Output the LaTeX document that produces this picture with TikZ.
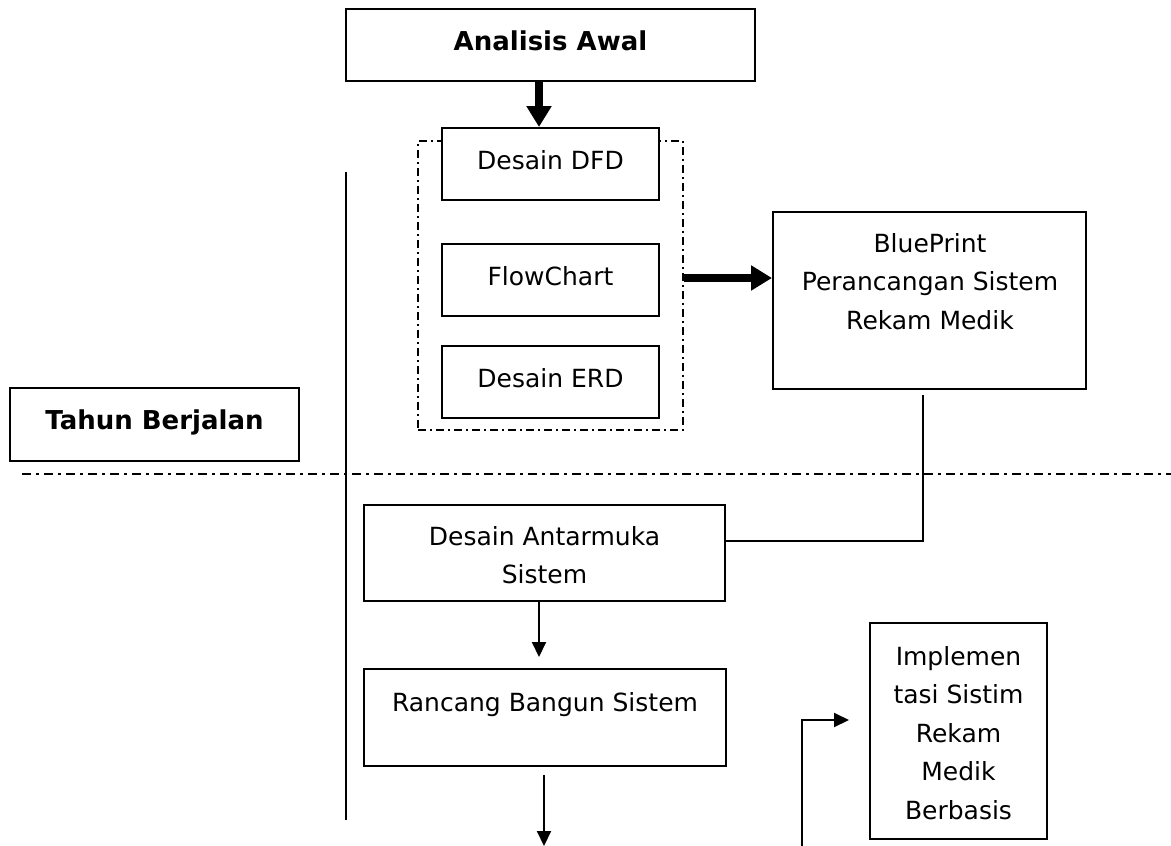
\documentclass[tikz,border=0pt]{standalone}
\usepackage{fontspec}
\setmainfont{DejaVu Sans}
\usetikzlibrary{arrows.meta,calc}
\tikzset{
  box/.style={draw, line width=2pt, fill=white, rectangle, inner sep=0pt},
  grpbox/.style={draw, line width=1.6pt, rectangle, inner sep=0pt, dash pattern=on 8pt off 4pt on 2pt off 4pt},
  dashdot/.style={line width=1.6pt, dash pattern=on 9pt off 5pt on 3pt off 5pt},
  txt/.style={inner sep=0pt, font=\fontsize{25}{38.5}\selectfont, align=center},
  btxt/.style={inner sep=0pt, font=\fontsize{26}{32}\selectfont\bfseries},
  plain/.style={line width=2pt},
  thickarrow/.style={line width=8pt, -{Triangle[width=24pt,length=21pt]}},
  thinarrow/.style={line width=2pt, -{Triangle[width=14pt,length=15pt]}}
}
\begin{document}
\begin{tikzpicture}[x=1pt,y=-1pt]
\useasboundingbox (0,0) rectangle (1171,846);
% group frame
\node[grpbox, minimum width=265pt, minimum height=289pt] (grp) at (550.5,285.5) {};
% boxes
\node[box, minimum width=409pt, minimum height=72pt] (an) at (550.5,45) {};
\node[box, minimum width=217pt, minimum height=72pt] (dfd) at (550.5,164) {};
\node[box, minimum width=217pt, minimum height=72pt] (flow) at (550.5,280) {};
\node[box, minimum width=217pt, minimum height=72pt] (erd) at (550.5,382) {};
\node[box, minimum width=313pt, minimum height=177pt] (bp) at (929.5,300.5) {};
\node[box, minimum width=289pt, minimum height=73pt] (tahun) at (154.5,424.5) {};
\node[box, minimum width=361pt, minimum height=96pt] (da) at (544.5,553) {};
\node[box, minimum width=362pt, minimum height=97pt] (rb) at (545,717.5) {};
\node[box, minimum width=177pt, minimum height=216pt] (impl) at (958.5,731) {};
% texts
\node[btxt, anchor=base] (tan) at (550.5,50) {Analisis Awal};
\node[txt, anchor=base] (tdfd) at (550.5,169) {Desain DFD};
\node[txt, anchor=base] (tflow) at (550.5,285) {FlowChart};
\node[txt, anchor=base] (terd) at (550.5,387) {Desain ERD};
\node[txt, anchor=north] (tbp) at (930,233) {BluePrint\\Perancangan Sistem\\Rekam Medik};
\node[btxt, anchor=base] (ttahun) at (154.5,429) {Tahun Berjalan};
\node[txt, anchor=north] (tda) at (544.5,526) {Desain Antarmuka\\Sistem};
\node[txt, anchor=base] (trb) at (545,711) {Rancang Bangun Sistem};
\node[txt, anchor=north] (timpl) at (958.5,646) {Implemen\\tasi Sistim\\Rekam\\Medik\\Berbasis};
% divider lines
\coordinate (v0) at (346,172);
\coordinate (v1) at (346,820);
\draw[plain] (v0) -- (v1);
\coordinate (h0) at (22,474);
\coordinate (h1) at (1171,474);
\draw[dashdot] (h0) -- (h1);
% connectors
\coordinate (ax) at (539,0);
\draw[thickarrow] (an.south -| ax) -- (dfd.north -| ax);
\coordinate (gy) at (0,278);
\draw[thickarrow] (grp.east |- gy) -- (bp.west |- gy);
\coordinate (k) at (923,541);
\draw[plain, shorten <=5pt] (bp.south -| k) -- (k) -- (k -| da.east);
\draw[thinarrow, shorten >=11pt] (da.south -| ax) -- (rb.north -| ax);
\coordinate (bend) at (544,846);
\draw[thinarrow, shorten <=8pt] (rb.south -| bend) -- (bend);
\coordinate (e0) at (802,846);
\coordinate (e1) at (802,720);
\draw[thinarrow, shorten >=20pt] (e0) -- (e1) -- (e1 -| impl.west);
\end{tikzpicture}
\end{document}
